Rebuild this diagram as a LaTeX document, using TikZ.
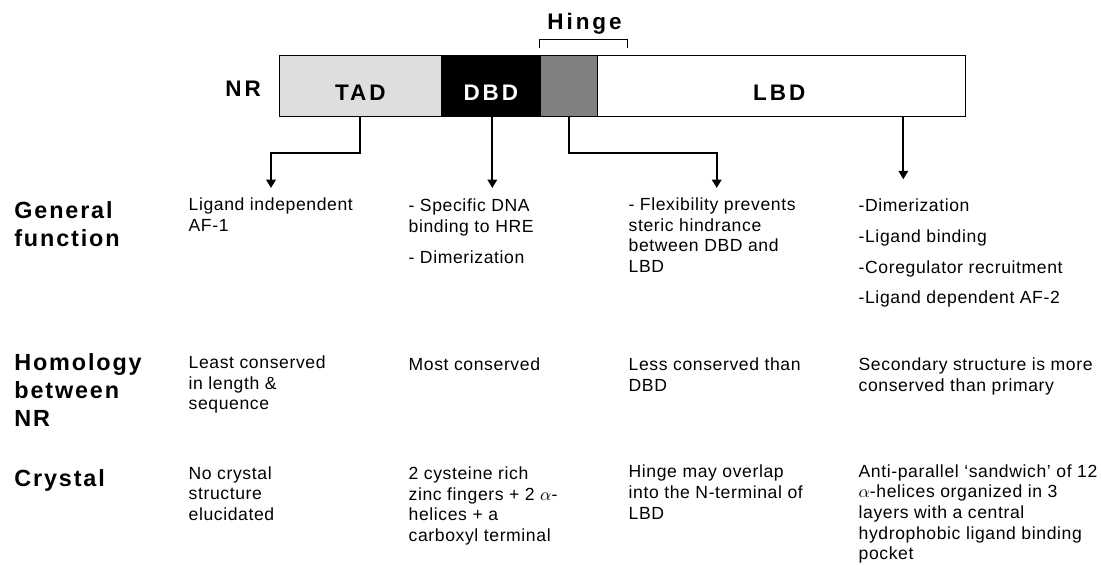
\documentclass[tikz,border=0pt]{standalone}
\usepackage{fontspec}
\setmainfont{Liberation Sans}[LetterSpace=3.5]
\newfontfamily\rowfont{Liberation Sans}[LetterSpace=8]
\newfontfamily\domfont{Liberation Sans}[LetterSpace=13]
\usetikzlibrary{arrows.meta}

\begin{document}
\begin{tikzpicture}
        [dom/.style={draw, line width=0.57pt, minimum height=1.22cm, inner sep=0pt},
        dlab/.style={font=\domfont\bfseries\fontsize{12.8}{14}\selectfont, inner sep=0pt},
        rowlab/.style={font=\rowfont\bfseries\fontsize{13.3}{16}\selectfont, anchor=base west, align=left, inner sep=0pt},
        txt/.style={font=\fontsize{10}{11.8}\selectfont, anchor=base west, align=left, inner sep=0pt},
        conn/.style={line width=1.14pt, -{Triangle[width=5.4pt,length=4.8pt]}},
        brack/.style={line width=0.57pt}]

        \useasboundingbox (0,0) rectangle (22.02,11.3);

        % --- the receptor bar ---
        \node[dom, fill=black!13, minimum width=3.254cm] (tad) at (7.207,9.57) {};
        \node[dom, fill=black, minimum width=1.966cm] (dbd) at (9.817,9.57) {};
        \node[dom, fill=black!50, minimum width=1.14cm] (hinge) at (11.37,9.57) {};
        \node[dom, fill=white, minimum width=7.36cm] (lbd) at (15.62,9.57) {};

        \node[dlab] (tadlab) at ([yshift=-3.4pt]tad.center) {TAD};
        \node[dlab, text=white] (dbdlab) at ([yshift=-3.4pt]dbd.center) {DBD};
        \node[dlab] (lbdlab) at ([xshift=-1pt, yshift=-3.4pt]lbd.center) {LBD};
        \node[dlab, anchor=base west] (nrlab) at (4.5,9.366) {NR};

        % Hinge bracket
        \coordinate (B1) at ([yshift=4.5pt]hinge.north west);
        \coordinate (B2) at (12.54,10.5);
        \draw[brack] (B1) |- (B2) -- (B2 |- B1);
        \node[dlab, anchor=base] (hingelab) at (11.69,10.714) {Hinge};

        % --- arrows down to the columns ---
        \coordinate (tadtip) at (5.42,7.54);
        \coordinate (dbdtip) at (9.846,7.54);
        \coordinate (hingetip) at (14.334,7.54);
        \coordinate (lbdtip) at (18.066,7.714);

        \draw[conn] (tad.south) -- ++(0,-0.714) -| (tadtip);
        \draw[conn] (dbd.south -| dbdtip) -- (dbdtip);
        \draw[conn] (hinge.south) -- ++(0,-0.714) -| (hingetip);
        \draw[conn] (lbd.south -| lbdtip) -- (lbdtip);

        % --- row labels (placed at the baseline of their last line) ---
        \node[rowlab] (gen) at (0.28,6.366) {General\\function};
        \node[rowlab] (hom) at (0.28,2.766) {Homology\\between\\NR};
        \node[rowlab] (cry) at (0.28,1.566) {Crystal};

        % --- TAD column ---
        \node[txt] (tadgen) at (3.766,6.666) {Ligand independent\\AF-1};
        \node[txt] (tadhom) at (3.766,3.10) {Least conserved\\in length \&\\sequence};
        \node[txt] (tadcry) at (3.766,0.886) {No crystal\\structure\\elucidated};

        % --- DBD column ---
        \node[txt] (dbdgen) at (8.166,6.034) {- Specific DNA\\binding to HRE\\[5.7pt]- Dimerization};
        \node[txt] (dbdhom) at (8.166,3.886) {Most conserved};
        \node[txt] (dbdcry) at (8.166,0.466) {2 cysteine rich\\zinc fingers + 2 $\alpha$-\\helices + a\\carboxyl terminal};

        % --- Hinge column ---
        \node[txt] (hingen) at (12.566,5.846) {- Flexibility prevents\\steric hindrance\\between DBD and\\LBD};
        \node[txt] (hinhom) at (12.566,3.466) {Less conserved than\\DBD};
        \node[txt] (hincry) at (12.566,0.914) {Hinge may overlap\\into the N-terminal of\\LBD};

        % --- LBD column ---
        \node[txt] (lbdgen) at (17.166,5.22) {-Dimerization\\[5.8pt]-Ligand binding\\[5.8pt]-Coregulator recruitment\\[5.8pt]-Ligand dependent AF-2};
        \node[txt] (lbdhom) at (17.166,3.466) {Secondary structure is more\\conserved than primary};
        \node[txt] (lbdcry) at (17.166,0.10) {Anti-parallel ‘sandwich’ of 12\\$\alpha$-helices organized in 3\\layers with a central\\hydrophobic ligand binding\\pocket};
    \end{tikzpicture}
\end{document}
